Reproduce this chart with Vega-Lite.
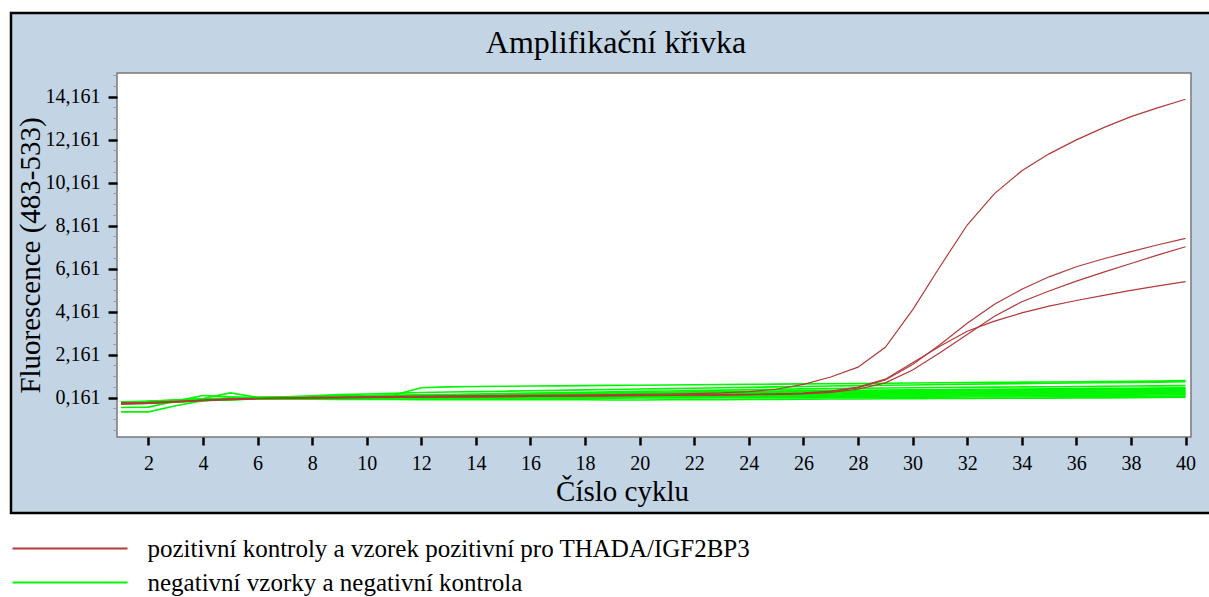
{
"$schema":"https://vega.github.io/schema/vega-lite/v6.json",
"width":1074,"height":364,
"autosize":{"type":"none"},
"padding":{"left":117,"top":73,"right":18,"bottom":160},
"background":"white",
"title":{"text":"Amplifikační křivka","font":"Liberation Serif","fontSize":32,"fontWeight":"normal","color":"black","anchor":"middle","frame":"group","dx":-38,"dy":62,"offset":14},
"datasets":{
"pos":[
{"s":"A","c":1,"f":-0.10},{"s":"A","c":2,"f":-0.08},{"s":"A","c":3,"f":-0.02},{"s":"A","c":4,"f":0.05},{"s":"A","c":5,"f":0.10},{"s":"A","c":6,"f":0.13},{"s":"A","c":7,"f":0.15},{"s":"A","c":8,"f":0.17},{"s":"A","c":9,"f":0.19},{"s":"A","c":10,"f":0.20},{"s":"A","c":11,"f":0.22},{"s":"A","c":12,"f":0.23},{"s":"A","c":13,"f":0.24},{"s":"A","c":14,"f":0.25},{"s":"A","c":15,"f":0.26},{"s":"A","c":16,"f":0.27},{"s":"A","c":17,"f":0.28},{"s":"A","c":18,"f":0.29},{"s":"A","c":19,"f":0.30},{"s":"A","c":20,"f":0.31},{"s":"A","c":21,"f":0.33},{"s":"A","c":22,"f":0.35},{"s":"A","c":23,"f":0.38},{"s":"A","c":24,"f":0.44},{"s":"A","c":25,"f":0.55},{"s":"A","c":26,"f":0.78},{"s":"A","c":27,"f":1.12},{"s":"A","c":28,"f":1.58},{"s":"A","c":29,"f":2.50},{"s":"A","c":30,"f":4.24},{"s":"A","c":31,"f":6.25},{"s":"A","c":32,"f":8.19},{"s":"A","c":33,"f":9.65},{"s":"A","c":34,"f":10.71},{"s":"A","c":35,"f":11.50},{"s":"A","c":36,"f":12.15},{"s":"A","c":37,"f":12.72},{"s":"A","c":38,"f":13.23},{"s":"A","c":39,"f":13.65},{"s":"A","c":40,"f":14.04},
{"s":"B","c":1,"f":-0.12},{"s":"B","c":2,"f":-0.10},{"s":"B","c":3,"f":-0.04},{"s":"B","c":4,"f":0.03},{"s":"B","c":5,"f":0.08},{"s":"B","c":6,"f":0.12},{"s":"B","c":7,"f":0.14},{"s":"B","c":8,"f":0.16},{"s":"B","c":9,"f":0.17},{"s":"B","c":10,"f":0.18},{"s":"B","c":11,"f":0.19},{"s":"B","c":12,"f":0.20},{"s":"B","c":13,"f":0.21},{"s":"B","c":14,"f":0.22},{"s":"B","c":15,"f":0.23},{"s":"B","c":16,"f":0.23},{"s":"B","c":17,"f":0.24},{"s":"B","c":18,"f":0.25},{"s":"B","c":19,"f":0.26},{"s":"B","c":20,"f":0.27},{"s":"B","c":21,"f":0.28},{"s":"B","c":22,"f":0.29},{"s":"B","c":23,"f":0.30},{"s":"B","c":24,"f":0.31},{"s":"B","c":25,"f":0.33},{"s":"B","c":26,"f":0.36},{"s":"B","c":27,"f":0.44},{"s":"B","c":28,"f":0.62},{"s":"B","c":29,"f":0.98},{"s":"B","c":30,"f":1.70},{"s":"B","c":31,"f":2.62},{"s":"B","c":32,"f":3.62},{"s":"B","c":33,"f":4.50},{"s":"B","c":34,"f":5.20},{"s":"B","c":35,"f":5.78},{"s":"B","c":36,"f":6.25},{"s":"B","c":37,"f":6.62},{"s":"B","c":38,"f":6.95},{"s":"B","c":39,"f":7.27},{"s":"B","c":40,"f":7.57},
{"s":"C","c":1,"f":-0.08},{"s":"C","c":2,"f":-0.06},{"s":"C","c":3,"f":-0.01},{"s":"C","c":4,"f":0.04},{"s":"C","c":5,"f":0.09},{"s":"C","c":6,"f":0.12},{"s":"C","c":7,"f":0.13},{"s":"C","c":8,"f":0.15},{"s":"C","c":9,"f":0.16},{"s":"C","c":10,"f":0.17},{"s":"C","c":11,"f":0.18},{"s":"C","c":12,"f":0.19},{"s":"C","c":13,"f":0.20},{"s":"C","c":14,"f":0.20},{"s":"C","c":15,"f":0.21},{"s":"C","c":16,"f":0.22},{"s":"C","c":17,"f":0.23},{"s":"C","c":18,"f":0.24},{"s":"C","c":19,"f":0.25},{"s":"C","c":20,"f":0.26},{"s":"C","c":21,"f":0.27},{"s":"C","c":22,"f":0.28},{"s":"C","c":23,"f":0.29},{"s":"C","c":24,"f":0.30},{"s":"C","c":25,"f":0.31},{"s":"C","c":26,"f":0.34},{"s":"C","c":27,"f":0.41},{"s":"C","c":28,"f":0.55},{"s":"C","c":29,"f":0.85},{"s":"C","c":30,"f":1.45},{"s":"C","c":31,"f":2.25},{"s":"C","c":32,"f":3.10},{"s":"C","c":33,"f":3.95},{"s":"C","c":34,"f":4.62},{"s":"C","c":35,"f":5.12},{"s":"C","c":36,"f":5.58},{"s":"C","c":37,"f":6.00},{"s":"C","c":38,"f":6.40},{"s":"C","c":39,"f":6.80},{"s":"C","c":40,"f":7.18},
{"s":"D","c":1,"f":-0.14},{"s":"D","c":2,"f":-0.11},{"s":"D","c":3,"f":-0.05},{"s":"D","c":4,"f":0.02},{"s":"D","c":5,"f":0.07},{"s":"D","c":6,"f":0.11},{"s":"D","c":7,"f":0.13},{"s":"D","c":8,"f":0.14},{"s":"D","c":9,"f":0.15},{"s":"D","c":10,"f":0.16},{"s":"D","c":11,"f":0.17},{"s":"D","c":12,"f":0.18},{"s":"D","c":13,"f":0.19},{"s":"D","c":14,"f":0.20},{"s":"D","c":15,"f":0.21},{"s":"D","c":16,"f":0.22},{"s":"D","c":17,"f":0.22},{"s":"D","c":18,"f":0.23},{"s":"D","c":19,"f":0.24},{"s":"D","c":20,"f":0.25},{"s":"D","c":21,"f":0.26},{"s":"D","c":22,"f":0.27},{"s":"D","c":23,"f":0.28},{"s":"D","c":24,"f":0.30},{"s":"D","c":25,"f":0.32},{"s":"D","c":26,"f":0.37},{"s":"D","c":27,"f":0.46},{"s":"D","c":28,"f":0.65},{"s":"D","c":29,"f":1.02},{"s":"D","c":30,"f":1.78},{"s":"D","c":31,"f":2.55},{"s":"D","c":32,"f":3.25},{"s":"D","c":33,"f":3.72},{"s":"D","c":34,"f":4.10},{"s":"D","c":35,"f":4.42},{"s":"D","c":36,"f":4.68},{"s":"D","c":37,"f":4.92},{"s":"D","c":38,"f":5.15},{"s":"D","c":39,"f":5.36},{"s":"D","c":40,"f":5.56}
],
"neg":[
{"s":"G1","c":1,"f":-0.05},{"s":"G1","c":2,"f":0.00},{"s":"G1","c":3,"f":0.05},{"s":"G1","c":4,"f":0.10},{"s":"G1","c":5,"f":0.14},{"s":"G1","c":6,"f":0.15},{"s":"G1","c":7,"f":0.17},{"s":"G1","c":8,"f":0.20},{"s":"G1","c":9,"f":0.23},{"s":"G1","c":10,"f":0.25},{"s":"G1","c":11,"f":0.28},{"s":"G1","c":12,"f":0.62},{"s":"G1","c":13,"f":0.66},{"s":"G1","c":14,"f":0.68},{"s":"G1","c":15,"f":0.69},{"s":"G1","c":16,"f":0.70},{"s":"G1","c":17,"f":0.71},{"s":"G1","c":18,"f":0.72},{"s":"G1","c":19,"f":0.73},{"s":"G1","c":20,"f":0.74},{"s":"G1","c":21,"f":0.75},{"s":"G1","c":22,"f":0.76},{"s":"G1","c":23,"f":0.77},{"s":"G1","c":24,"f":0.78},{"s":"G1","c":25,"f":0.79},{"s":"G1","c":26,"f":0.80},{"s":"G1","c":27,"f":0.81},{"s":"G1","c":28,"f":0.82},{"s":"G1","c":29,"f":0.83},{"s":"G1","c":30,"f":0.84},{"s":"G1","c":31,"f":0.85},{"s":"G1","c":32,"f":0.86},{"s":"G1","c":33,"f":0.87},{"s":"G1","c":34,"f":0.88},{"s":"G1","c":35,"f":0.89},{"s":"G1","c":36,"f":0.90},{"s":"G1","c":37,"f":0.91},{"s":"G1","c":38,"f":0.92},{"s":"G1","c":39,"f":0.93},{"s":"G1","c":40,"f":0.95},
{"s":"G2","c":1,"f":-0.50},{"s":"G2","c":2,"f":-0.50},{"s":"G2","c":3,"f":-0.22},{"s":"G2","c":4,"f":0.02},{"s":"G2","c":5,"f":0.12},{"s":"G2","c":6,"f":0.16},{"s":"G2","c":7,"f":0.20},{"s":"G2","c":8,"f":0.25},{"s":"G2","c":9,"f":0.30},{"s":"G2","c":10,"f":0.33},{"s":"G2","c":11,"f":0.36},{"s":"G2","c":12,"f":0.40},{"s":"G2","c":13,"f":0.42},{"s":"G2","c":14,"f":0.44},{"s":"G2","c":15,"f":0.46},{"s":"G2","c":16,"f":0.48},{"s":"G2","c":17,"f":0.50},{"s":"G2","c":18,"f":0.52},{"s":"G2","c":19,"f":0.54},{"s":"G2","c":20,"f":0.56},{"s":"G2","c":21,"f":0.58},{"s":"G2","c":22,"f":0.60},{"s":"G2","c":23,"f":0.62},{"s":"G2","c":24,"f":0.64},{"s":"G2","c":25,"f":0.66},{"s":"G2","c":26,"f":0.68},{"s":"G2","c":27,"f":0.70},{"s":"G2","c":28,"f":0.72},{"s":"G2","c":29,"f":0.74},{"s":"G2","c":30,"f":0.75},{"s":"G2","c":31,"f":0.77},{"s":"G2","c":32,"f":0.78},{"s":"G2","c":33,"f":0.80},{"s":"G2","c":34,"f":0.81},{"s":"G2","c":35,"f":0.83},{"s":"G2","c":36,"f":0.84},{"s":"G2","c":37,"f":0.85},{"s":"G2","c":38,"f":0.87},{"s":"G2","c":39,"f":0.88},{"s":"G2","c":40,"f":0.90},
{"s":"G3","c":1,"f":-0.05},{"s":"G3","c":2,"f":-0.02},{"s":"G3","c":3,"f":0.05},{"s":"G3","c":4,"f":0.12},{"s":"G3","c":5,"f":0.38},{"s":"G3","c":6,"f":0.18},{"s":"G3","c":7,"f":0.19},{"s":"G3","c":8,"f":0.21},{"s":"G3","c":9,"f":0.23},{"s":"G3","c":10,"f":0.25},{"s":"G3","c":11,"f":0.27},{"s":"G3","c":12,"f":0.29},{"s":"G3","c":13,"f":0.31},{"s":"G3","c":14,"f":0.33},{"s":"G3","c":15,"f":0.35},{"s":"G3","c":16,"f":0.37},{"s":"G3","c":17,"f":0.39},{"s":"G3","c":18,"f":0.41},{"s":"G3","c":19,"f":0.43},{"s":"G3","c":20,"f":0.45},{"s":"G3","c":21,"f":0.47},{"s":"G3","c":22,"f":0.49},{"s":"G3","c":23,"f":0.51},{"s":"G3","c":24,"f":0.53},{"s":"G3","c":25,"f":0.55},{"s":"G3","c":26,"f":0.57},{"s":"G3","c":27,"f":0.58},{"s":"G3","c":28,"f":0.60},{"s":"G3","c":29,"f":0.61},{"s":"G3","c":30,"f":0.62},{"s":"G3","c":31,"f":0.63},{"s":"G3","c":32,"f":0.64},{"s":"G3","c":33,"f":0.65},{"s":"G3","c":34,"f":0.66},{"s":"G3","c":35,"f":0.67},{"s":"G3","c":36,"f":0.68},{"s":"G3","c":37,"f":0.69},{"s":"G3","c":38,"f":0.70},{"s":"G3","c":39,"f":0.71},{"s":"G3","c":40,"f":0.72},
{"s":"G4","c":1,"f":-0.30},{"s":"G4","c":2,"f":-0.28},{"s":"G4","c":3,"f":0.00},{"s":"G4","c":4,"f":0.26},{"s":"G4","c":5,"f":0.20},{"s":"G4","c":6,"f":0.16},{"s":"G4","c":7,"f":0.17},{"s":"G4","c":8,"f":0.19},{"s":"G4","c":9,"f":0.21},{"s":"G4","c":10,"f":0.22},{"s":"G4","c":11,"f":0.24},{"s":"G4","c":12,"f":0.25},{"s":"G4","c":13,"f":0.27},{"s":"G4","c":14,"f":0.28},{"s":"G4","c":15,"f":0.30},{"s":"G4","c":16,"f":0.31},{"s":"G4","c":17,"f":0.33},{"s":"G4","c":18,"f":0.34},{"s":"G4","c":19,"f":0.36},{"s":"G4","c":20,"f":0.37},{"s":"G4","c":21,"f":0.39},{"s":"G4","c":22,"f":0.40},{"s":"G4","c":23,"f":0.41},{"s":"G4","c":24,"f":0.43},{"s":"G4","c":25,"f":0.44},{"s":"G4","c":26,"f":0.45},{"s":"G4","c":27,"f":0.46},{"s":"G4","c":28,"f":0.47},{"s":"G4","c":29,"f":0.48},{"s":"G4","c":30,"f":0.49},{"s":"G4","c":31,"f":0.50},{"s":"G4","c":32,"f":0.51},{"s":"G4","c":33,"f":0.52},{"s":"G4","c":34,"f":0.53},{"s":"G4","c":35,"f":0.54},{"s":"G4","c":36,"f":0.55},{"s":"G4","c":37,"f":0.56},{"s":"G4","c":38,"f":0.57},{"s":"G4","c":39,"f":0.58},{"s":"G4","c":40,"f":0.60},
{"s":"G5","c":1,"f":-0.08},{"s":"G5","c":2,"f":-0.06},{"s":"G5","c":3,"f":0.00},{"s":"G5","c":4,"f":0.06},{"s":"G5","c":5,"f":0.10},{"s":"G5","c":6,"f":0.14},{"s":"G5","c":7,"f":0.15},{"s":"G5","c":8,"f":0.17},{"s":"G5","c":9,"f":0.18},{"s":"G5","c":10,"f":0.20},{"s":"G5","c":11,"f":0.21},{"s":"G5","c":12,"f":0.22},{"s":"G5","c":13,"f":0.24},{"s":"G5","c":14,"f":0.25},{"s":"G5","c":15,"f":0.27},{"s":"G5","c":16,"f":0.28},{"s":"G5","c":17,"f":0.29},{"s":"G5","c":18,"f":0.31},{"s":"G5","c":19,"f":0.32},{"s":"G5","c":20,"f":0.33},{"s":"G5","c":21,"f":0.35},{"s":"G5","c":22,"f":0.36},{"s":"G5","c":23,"f":0.37},{"s":"G5","c":24,"f":0.38},{"s":"G5","c":25,"f":0.40},{"s":"G5","c":26,"f":0.41},{"s":"G5","c":27,"f":0.42},{"s":"G5","c":28,"f":0.43},{"s":"G5","c":29,"f":0.44},{"s":"G5","c":30,"f":0.45},{"s":"G5","c":31,"f":0.46},{"s":"G5","c":32,"f":0.47},{"s":"G5","c":33,"f":0.48},{"s":"G5","c":34,"f":0.49},{"s":"G5","c":35,"f":0.50},{"s":"G5","c":36,"f":0.51},{"s":"G5","c":37,"f":0.52},{"s":"G5","c":38,"f":0.53},{"s":"G5","c":39,"f":0.54},{"s":"G5","c":40,"f":0.55},
{"s":"G6","c":1,"f":-0.10},{"s":"G6","c":2,"f":-0.08},{"s":"G6","c":3,"f":-0.02},{"s":"G6","c":4,"f":0.05},{"s":"G6","c":5,"f":0.09},{"s":"G6","c":6,"f":0.13},{"s":"G6","c":7,"f":0.14},{"s":"G6","c":8,"f":0.16},{"s":"G6","c":9,"f":0.17},{"s":"G6","c":10,"f":0.18},{"s":"G6","c":11,"f":0.19},{"s":"G6","c":12,"f":0.21},{"s":"G6","c":13,"f":0.22},{"s":"G6","c":14,"f":0.23},{"s":"G6","c":15,"f":0.24},{"s":"G6","c":16,"f":0.25},{"s":"G6","c":17,"f":0.27},{"s":"G6","c":18,"f":0.28},{"s":"G6","c":19,"f":0.29},{"s":"G6","c":20,"f":0.30},{"s":"G6","c":21,"f":0.31},{"s":"G6","c":22,"f":0.32},{"s":"G6","c":23,"f":0.33},{"s":"G6","c":24,"f":0.34},{"s":"G6","c":25,"f":0.35},{"s":"G6","c":26,"f":0.36},{"s":"G6","c":27,"f":0.37},{"s":"G6","c":28,"f":0.38},{"s":"G6","c":29,"f":0.39},{"s":"G6","c":30,"f":0.40},{"s":"G6","c":31,"f":0.41},{"s":"G6","c":32,"f":0.42},{"s":"G6","c":33,"f":0.43},{"s":"G6","c":34,"f":0.44},{"s":"G6","c":35,"f":0.45},{"s":"G6","c":36,"f":0.46},{"s":"G6","c":37,"f":0.47},{"s":"G6","c":38,"f":0.48},{"s":"G6","c":39,"f":0.49},{"s":"G6","c":40,"f":0.50},
{"s":"G7","c":1,"f":-0.06},{"s":"G7","c":2,"f":-0.04},{"s":"G7","c":3,"f":0.01},{"s":"G7","c":4,"f":0.06},{"s":"G7","c":5,"f":0.10},{"s":"G7","c":6,"f":0.13},{"s":"G7","c":7,"f":0.14},{"s":"G7","c":8,"f":0.15},{"s":"G7","c":9,"f":0.16},{"s":"G7","c":10,"f":0.17},{"s":"G7","c":11,"f":0.18},{"s":"G7","c":12,"f":0.19},{"s":"G7","c":13,"f":0.20},{"s":"G7","c":14,"f":0.21},{"s":"G7","c":15,"f":0.22},{"s":"G7","c":16,"f":0.23},{"s":"G7","c":17,"f":0.24},{"s":"G7","c":18,"f":0.25},{"s":"G7","c":19,"f":0.26},{"s":"G7","c":20,"f":0.27},{"s":"G7","c":21,"f":0.28},{"s":"G7","c":22,"f":0.29},{"s":"G7","c":23,"f":0.30},{"s":"G7","c":24,"f":0.31},{"s":"G7","c":25,"f":0.32},{"s":"G7","c":26,"f":0.33},{"s":"G7","c":27,"f":0.34},{"s":"G7","c":28,"f":0.35},{"s":"G7","c":29,"f":0.36},{"s":"G7","c":30,"f":0.37},{"s":"G7","c":31,"f":0.38},{"s":"G7","c":32,"f":0.39},{"s":"G7","c":33,"f":0.40},{"s":"G7","c":34,"f":0.41},{"s":"G7","c":35,"f":0.42},{"s":"G7","c":36,"f":0.42},{"s":"G7","c":37,"f":0.43},{"s":"G7","c":38,"f":0.44},{"s":"G7","c":39,"f":0.45},{"s":"G7","c":40,"f":0.46},
{"s":"G8","c":1,"f":-0.12},{"s":"G8","c":2,"f":-0.10},{"s":"G8","c":3,"f":-0.03},{"s":"G8","c":4,"f":0.04},{"s":"G8","c":5,"f":0.08},{"s":"G8","c":6,"f":0.12},{"s":"G8","c":7,"f":0.13},{"s":"G8","c":8,"f":0.14},{"s":"G8","c":9,"f":0.15},{"s":"G8","c":10,"f":0.16},{"s":"G8","c":11,"f":0.17},{"s":"G8","c":12,"f":0.18},{"s":"G8","c":13,"f":0.19},{"s":"G8","c":14,"f":0.20},{"s":"G8","c":15,"f":0.20},{"s":"G8","c":16,"f":0.21},{"s":"G8","c":17,"f":0.22},{"s":"G8","c":18,"f":0.23},{"s":"G8","c":19,"f":0.24},{"s":"G8","c":20,"f":0.25},{"s":"G8","c":21,"f":0.26},{"s":"G8","c":22,"f":0.27},{"s":"G8","c":23,"f":0.27},{"s":"G8","c":24,"f":0.28},{"s":"G8","c":25,"f":0.29},{"s":"G8","c":26,"f":0.30},{"s":"G8","c":27,"f":0.31},{"s":"G8","c":28,"f":0.32},{"s":"G8","c":29,"f":0.33},{"s":"G8","c":30,"f":0.34},{"s":"G8","c":31,"f":0.34},{"s":"G8","c":32,"f":0.35},{"s":"G8","c":33,"f":0.36},{"s":"G8","c":34,"f":0.37},{"s":"G8","c":35,"f":0.38},{"s":"G8","c":36,"f":0.39},{"s":"G8","c":37,"f":0.39},{"s":"G8","c":38,"f":0.40},{"s":"G8","c":39,"f":0.41},{"s":"G8","c":40,"f":0.42},
{"s":"G9","c":1,"f":-0.09},{"s":"G9","c":2,"f":-0.07},{"s":"G9","c":3,"f":-0.01},{"s":"G9","c":4,"f":0.05},{"s":"G9","c":5,"f":0.09},{"s":"G9","c":6,"f":0.12},{"s":"G9","c":7,"f":0.13},{"s":"G9","c":8,"f":0.14},{"s":"G9","c":9,"f":0.14},{"s":"G9","c":10,"f":0.15},{"s":"G9","c":11,"f":0.16},{"s":"G9","c":12,"f":0.17},{"s":"G9","c":13,"f":0.17},{"s":"G9","c":14,"f":0.18},{"s":"G9","c":15,"f":0.19},{"s":"G9","c":16,"f":0.20},{"s":"G9","c":17,"f":0.20},{"s":"G9","c":18,"f":0.21},{"s":"G9","c":19,"f":0.22},{"s":"G9","c":20,"f":0.23},{"s":"G9","c":21,"f":0.23},{"s":"G9","c":22,"f":0.24},{"s":"G9","c":23,"f":0.25},{"s":"G9","c":24,"f":0.26},{"s":"G9","c":25,"f":0.26},{"s":"G9","c":26,"f":0.27},{"s":"G9","c":27,"f":0.28},{"s":"G9","c":28,"f":0.29},{"s":"G9","c":29,"f":0.29},{"s":"G9","c":30,"f":0.30},{"s":"G9","c":31,"f":0.31},{"s":"G9","c":32,"f":0.32},{"s":"G9","c":33,"f":0.32},{"s":"G9","c":34,"f":0.33},{"s":"G9","c":35,"f":0.34},{"s":"G9","c":36,"f":0.35},{"s":"G9","c":37,"f":0.35},{"s":"G9","c":38,"f":0.36},{"s":"G9","c":39,"f":0.37},{"s":"G9","c":40,"f":0.38},
{"s":"G10","c":1,"f":-0.11},{"s":"G10","c":2,"f":-0.09},{"s":"G10","c":3,"f":-0.03},{"s":"G10","c":4,"f":0.03},{"s":"G10","c":5,"f":0.07},{"s":"G10","c":6,"f":0.11},{"s":"G10","c":7,"f":0.12},{"s":"G10","c":8,"f":0.12},{"s":"G10","c":9,"f":0.13},{"s":"G10","c":10,"f":0.14},{"s":"G10","c":11,"f":0.14},{"s":"G10","c":12,"f":0.15},{"s":"G10","c":13,"f":0.16},{"s":"G10","c":14,"f":0.16},{"s":"G10","c":15,"f":0.17},{"s":"G10","c":16,"f":0.18},{"s":"G10","c":17,"f":0.18},{"s":"G10","c":18,"f":0.19},{"s":"G10","c":19,"f":0.20},{"s":"G10","c":20,"f":0.20},{"s":"G10","c":21,"f":0.21},{"s":"G10","c":22,"f":0.22},{"s":"G10","c":23,"f":0.22},{"s":"G10","c":24,"f":0.23},{"s":"G10","c":25,"f":0.24},{"s":"G10","c":26,"f":0.24},{"s":"G10","c":27,"f":0.25},{"s":"G10","c":28,"f":0.26},{"s":"G10","c":29,"f":0.26},{"s":"G10","c":30,"f":0.27},{"s":"G10","c":31,"f":0.28},{"s":"G10","c":32,"f":0.28},{"s":"G10","c":33,"f":0.29},{"s":"G10","c":34,"f":0.30},{"s":"G10","c":35,"f":0.30},{"s":"G10","c":36,"f":0.31},{"s":"G10","c":37,"f":0.32},{"s":"G10","c":38,"f":0.32},{"s":"G10","c":39,"f":0.33},{"s":"G10","c":40,"f":0.34},
{"s":"G11","c":1,"f":-0.07},{"s":"G11","c":2,"f":-0.05},{"s":"G11","c":3,"f":0.00},{"s":"G11","c":4,"f":0.05},{"s":"G11","c":5,"f":0.08},{"s":"G11","c":6,"f":0.11},{"s":"G11","c":7,"f":0.11},{"s":"G11","c":8,"f":0.12},{"s":"G11","c":9,"f":0.12},{"s":"G11","c":10,"f":0.13},{"s":"G11","c":11,"f":0.13},{"s":"G11","c":12,"f":0.14},{"s":"G11","c":13,"f":0.14},{"s":"G11","c":14,"f":0.15},{"s":"G11","c":15,"f":0.15},{"s":"G11","c":16,"f":0.16},{"s":"G11","c":17,"f":0.16},{"s":"G11","c":18,"f":0.17},{"s":"G11","c":19,"f":0.17},{"s":"G11","c":20,"f":0.18},{"s":"G11","c":21,"f":0.18},{"s":"G11","c":22,"f":0.19},{"s":"G11","c":23,"f":0.19},{"s":"G11","c":24,"f":0.20},{"s":"G11","c":25,"f":0.20},{"s":"G11","c":26,"f":0.21},{"s":"G11","c":27,"f":0.21},{"s":"G11","c":28,"f":0.22},{"s":"G11","c":29,"f":0.22},{"s":"G11","c":30,"f":0.23},{"s":"G11","c":31,"f":0.23},{"s":"G11","c":32,"f":0.24},{"s":"G11","c":33,"f":0.24},{"s":"G11","c":34,"f":0.25},{"s":"G11","c":35,"f":0.25},{"s":"G11","c":36,"f":0.26},{"s":"G11","c":37,"f":0.26},{"s":"G11","c":38,"f":0.27},{"s":"G11","c":39,"f":0.28},{"s":"G11","c":40,"f":0.29},
{"s":"G12","c":1,"f":-0.13},{"s":"G12","c":2,"f":-0.11},{"s":"G12","c":3,"f":-0.05},{"s":"G12","c":4,"f":0.02},{"s":"G12","c":5,"f":0.06},{"s":"G12","c":6,"f":0.10},{"s":"G12","c":7,"f":0.10},{"s":"G12","c":8,"f":0.11},{"s":"G12","c":9,"f":0.11},{"s":"G12","c":10,"f":0.11},{"s":"G12","c":11,"f":0.12},{"s":"G12","c":12,"f":0.12},{"s":"G12","c":13,"f":0.12},{"s":"G12","c":14,"f":0.13},{"s":"G12","c":15,"f":0.13},{"s":"G12","c":16,"f":0.13},{"s":"G12","c":17,"f":0.14},{"s":"G12","c":18,"f":0.14},{"s":"G12","c":19,"f":0.14},{"s":"G12","c":20,"f":0.15},{"s":"G12","c":21,"f":0.15},{"s":"G12","c":22,"f":0.15},{"s":"G12","c":23,"f":0.16},{"s":"G12","c":24,"f":0.16},{"s":"G12","c":25,"f":0.16},{"s":"G12","c":26,"f":0.17},{"s":"G12","c":27,"f":0.17},{"s":"G12","c":28,"f":0.17},{"s":"G12","c":29,"f":0.18},{"s":"G12","c":30,"f":0.18},{"s":"G12","c":31,"f":0.18},{"s":"G12","c":32,"f":0.19},{"s":"G12","c":33,"f":0.19},{"s":"G12","c":34,"f":0.19},{"s":"G12","c":35,"f":0.20},{"s":"G12","c":36,"f":0.20},{"s":"G12","c":37,"f":0.21},{"s":"G12","c":38,"f":0.21},{"s":"G12","c":39,"f":0.22},{"s":"G12","c":40,"f":0.22},
{"s":"G13","c":1,"f":-0.10},{"s":"G13","c":2,"f":-0.08},{"s":"G13","c":3,"f":-0.03},{"s":"G13","c":4,"f":0.03},{"s":"G13","c":5,"f":0.07},{"s":"G13","c":6,"f":0.10},{"s":"G13","c":7,"f":0.09},{"s":"G13","c":8,"f":0.09},{"s":"G13","c":9,"f":0.08},{"s":"G13","c":10,"f":0.08},{"s":"G13","c":11,"f":0.08},{"s":"G13","c":12,"f":0.07},{"s":"G13","c":13,"f":0.07},{"s":"G13","c":14,"f":0.07},{"s":"G13","c":15,"f":0.06},{"s":"G13","c":16,"f":0.06},{"s":"G13","c":17,"f":0.06},{"s":"G13","c":18,"f":0.06},{"s":"G13","c":19,"f":0.05},{"s":"G13","c":20,"f":0.05},{"s":"G13","c":21,"f":0.06},{"s":"G13","c":22,"f":0.06},{"s":"G13","c":23,"f":0.07},{"s":"G13","c":24,"f":0.08},{"s":"G13","c":25,"f":0.08},{"s":"G13","c":26,"f":0.09},{"s":"G13","c":27,"f":0.10},{"s":"G13","c":28,"f":0.10},{"s":"G13","c":29,"f":0.11},{"s":"G13","c":30,"f":0.11},{"s":"G13","c":31,"f":0.12},{"s":"G13","c":32,"f":0.12},{"s":"G13","c":33,"f":0.13},{"s":"G13","c":34,"f":0.13},{"s":"G13","c":35,"f":0.14},{"s":"G13","c":36,"f":0.15},{"s":"G13","c":37,"f":0.15},{"s":"G13","c":38,"f":0.16},{"s":"G13","c":39,"f":0.17},{"s":"G13","c":40,"f":0.18},
{"s":"G14","c":1,"f":-0.04},{"s":"G14","c":2,"f":-0.02},{"s":"G14","c":3,"f":0.04},{"s":"G14","c":4,"f":0.09},{"s":"G14","c":5,"f":0.13},{"s":"G14","c":6,"f":0.16},{"s":"G14","c":7,"f":0.18},{"s":"G14","c":8,"f":0.20},{"s":"G14","c":9,"f":0.22},{"s":"G14","c":10,"f":0.24},{"s":"G14","c":11,"f":0.26},{"s":"G14","c":12,"f":0.27},{"s":"G14","c":13,"f":0.29},{"s":"G14","c":14,"f":0.30},{"s":"G14","c":15,"f":0.32},{"s":"G14","c":16,"f":0.34},{"s":"G14","c":17,"f":0.35},{"s":"G14","c":18,"f":0.37},{"s":"G14","c":19,"f":0.38},{"s":"G14","c":20,"f":0.40},{"s":"G14","c":21,"f":0.41},{"s":"G14","c":22,"f":0.43},{"s":"G14","c":23,"f":0.44},{"s":"G14","c":24,"f":0.46},{"s":"G14","c":25,"f":0.47},{"s":"G14","c":26,"f":0.48},{"s":"G14","c":27,"f":0.49},{"s":"G14","c":28,"f":0.50},{"s":"G14","c":29,"f":0.51},{"s":"G14","c":30,"f":0.52},{"s":"G14","c":31,"f":0.53},{"s":"G14","c":32,"f":0.54},{"s":"G14","c":33,"f":0.55},{"s":"G14","c":34,"f":0.56},{"s":"G14","c":35,"f":0.57},{"s":"G14","c":36,"f":0.58},{"s":"G14","c":37,"f":0.59},{"s":"G14","c":38,"f":0.60},{"s":"G14","c":39,"f":0.61},{"s":"G14","c":40,"f":0.62}
]
},
"config":{
"font":"Liberation Serif",
"style":{"guide-label":{"font":"Liberation Serif"},"guide-title":{"font":"Liberation Serif"}},
"view":{"stroke":null},
"axis":{"domain":false,"grid":false,"labelFont":"Liberation Serif","titleFont":"Liberation Serif","labelColor":"black","titleColor":"black","tickColor":"black","labelFontSize":20,"titleFontSize":29,"titleFontWeight":"normal","tickWidth":2.5},
"axisX":{"tickSize":8,"labelPadding":8,"titlePadding":4,"titleX":505},
"axisY":{"tickSize":9,"labelPadding":8,"titlePadding":0},
"legend":{"orient":"none","legendX":-59.5,"legendY":463,"direction":"vertical","padding":0,"symbolType":"M-5.75,0H5.75","symbolSize":400,"symbolStrokeWidth":2,"labelFont":"Liberation Serif","labelFontSize":25,"labelColor":"black","labelOffset":65,"labelLimit":1000,"rowPadding":8}
},
"layer":[
{"data":{"values":[{}]},
 "mark":{"type":"rect","fill":"#c3d5e5","stroke":"black","strokeWidth":2.5,"clip":false},
 "encoding":{
  "x":{"datum":-3.034,"type":"quantitative","scale":{"domain":[0.85,40.2],"nice":false,"zero":false},"axis":{"zindex":1,"values":[2,4,6,8,10,12,14,16,18,20,22,24,26,28,30,32,34,36,38,40],"title":"Číslo cyklu"}},
  "x2":{"datum":41.6},
  "y":{"datum":18.05,"type":"quantitative","scale":{"domain":[-1.67,15.26],"nice":false,"zero":false},"axis":null},
  "y2":{"datum":-5.205}}},
{"data":{"values":[{}]},
 "mark":{"type":"rect","fill":"white","stroke":"#7a7a7a","strokeWidth":1.5,"clip":false},
 "encoding":{
  "x":{"datum":0.85,"type":"quantitative","scale":{"domain":[0.85,40.2],"nice":false,"zero":false},"axis":{"zindex":1,"values":[2,4,6,8,10,12,14,16,18,20,22,24,26,28,30,32,34,36,38,40],"title":"Číslo cyklu"}},
  "x2":{"datum":40.2},
  "y":{"datum":-1.67,"type":"quantitative","scale":{"domain":[-1.67,15.26],"nice":false,"zero":false},"axis":{"zindex":1,"orient":"left","values":[-1.339,-0.839,-0.339,0.661,1.161,1.661,2.661,3.161,3.661,4.661,5.161,5.661,6.661,7.161,7.661,8.661,9.161,9.661,10.661,11.161,11.661,12.661,13.161,13.661,14.661,15.161],"tickSize":4,"tickWidth":1,"tickColor":"#9a9a9a","labels":false,"title":null}},
  "y2":{"datum":15.26}}},
{"data":{"name":"neg"},
 "mark":{"type":"line","strokeWidth":1.6},
 "encoding":{
  "x":{"field":"c","type":"quantitative","scale":{"domain":[0.85,40.2],"nice":false,"zero":false},"axis":{"zindex":1,"values":[2,4,6,8,10,12,14,16,18,20,22,24,26,28,30,32,34,36,38,40],"title":"Číslo cyklu"}},
  "y":{"field":"f","type":"quantitative","scale":{"domain":[-1.67,15.26],"nice":false,"zero":false},"axis":null},
  "detail":{"field":"s"},
  "color":{"datum":"negativní vzorky a negativní kontrola","type":"nominal","scale":{"domain":["pozitivní kontroly a vzorek pozitivní pro THADA/IGF2BP3","negativní vzorky a negativní kontrola"],"range":["#b23a3a","#00f500"]},"legend":{"title":null}}}},
{"data":{"name":"pos"},
 "mark":{"type":"line","strokeWidth":1.2},
 "encoding":{
  "x":{"field":"c","type":"quantitative","scale":{"domain":[0.85,40.2],"nice":false,"zero":false},"axis":{"zindex":1,"values":[2,4,6,8,10,12,14,16,18,20,22,24,26,28,30,32,34,36,38,40],"title":"Číslo cyklu"}},
  "y":{"field":"f","type":"quantitative","scale":{"domain":[-1.67,15.26],"nice":false,"zero":false},"axis":{"zindex":1,"orient":"left","values":[0.161,2.161,4.161,6.161,8.161,10.161,12.161,14.161],"labelExpr":"replace(format(datum.value, '.3f'), '.', ',')","title":"Fluorescence (483-533)"}},
  "detail":{"field":"s"},
  "color":{"datum":"pozitivní kontroly a vzorek pozitivní pro THADA/IGF2BP3","type":"nominal","scale":{"domain":["pozitivní kontroly a vzorek pozitivní pro THADA/IGF2BP3","negativní vzorky a negativní kontrola"],"range":["#b23a3a","#00f500"]},"legend":{"title":null}}}}
],
"resolve":{"axis":{"y":"independent"}}
}
